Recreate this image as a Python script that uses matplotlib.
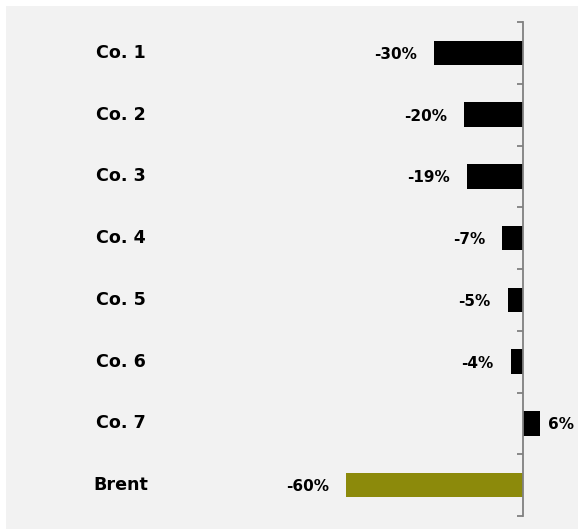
import matplotlib.pyplot as plt
from matplotlib.patches import Rectangle
from matplotlib.transforms import blended_transform_factory

# price change by company, with Brent as the benchmark in the last row
companies = ["Co. 1", "Co. 2", "Co. 3", "Co. 4", "Co. 5", "Co. 6", "Co. 7", "Brent"]
changes = [-30, -20, -19, -7, -5, -4, 6, -60]
bar_colors = ["black"] * 7 + ["#8C8A0B"]

FONT = "DejaVu Sans"
W, H = 578, 529
fig = plt.figure(figsize=(W / 100, H / 100), dpi=100)
fig.patch.set_facecolor("white")
fig.patches.append(Rectangle((6 / W, 0), 1 - 6 / W, (H - 6) / H,
                             transform=fig.transFigure, facecolor="#F2F2F2",
                             edgecolor="none", zorder=-10))

ax = fig.add_axes([0, 13 / H, 1, (516 - 22) / H])
ax.patch.set_visible(False)

px_per_unit = 2.935
ax.set_xlim(-522.5 / px_per_unit, (W - 522.5) / px_per_unit)
ax.set_ylim(len(companies) - 0.5, -0.5)

ypos = list(range(len(companies)))
ax.barh(ypos, changes, height=0.4, color=bar_colors, zorder=2)

# value labels beside the bar ends
for y, v in zip(ypos, changes):
    if v < 0:
        ax.annotate(f"{v}%", (v, y), xytext=(-17, -6), textcoords="offset pixels",
                    ha="right", va="baseline", fontsize=11, fontweight="bold",
                    family=FONT)
    else:
        ax.annotate(f"{v}%", (v, y), xytext=(8, -6), textcoords="offset pixels",
                    ha="left", va="baseline", fontsize=11, fontweight="bold",
                    family=FONT)

# category names in a column on the left
trans = blended_transform_factory(fig.transFigure, ax.transData)
for y, name in zip(ypos, companies):
    ax.annotate(name, (120.5 / W, y), xycoords=trans, xytext=(0, -5),
                textcoords="offset pixels", ha="center", va="baseline",
                fontsize=12.6, fontweight="bold", family=FONT)

# zero line with ticks between categories
for s in ["top", "right", "bottom"]:
    ax.spines[s].set_visible(False)
ax.spines["left"].set_position(("data", 0))
ax.spines["left"].set_color("#808080")
ax.spines["left"].set_linewidth(1.3)
ax.spines["left"].set_zorder(3)
ax.set_yticks([i - 0.5 for i in range(len(companies) + 1)])
ax.set_yticklabels([])
ax.tick_params(axis="y", direction="out", length=4.5, width=1.3, color="#808080")
ax.set_xticks([])

fig.savefig("out.png", dpi=100)
